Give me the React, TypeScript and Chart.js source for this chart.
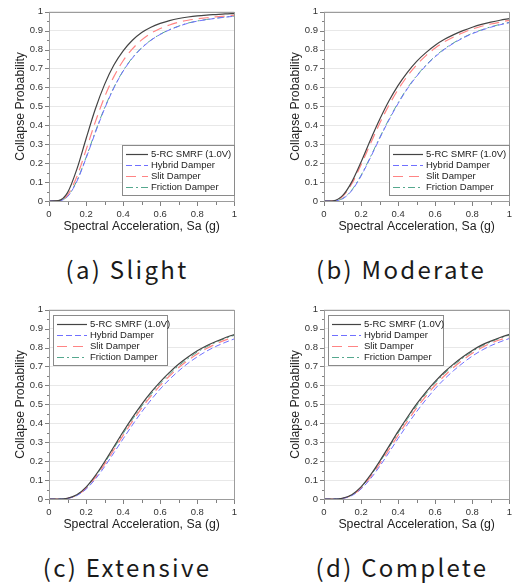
import React, { useEffect, useRef } from 'react';
import { Chart, registerables } from 'chart.js';
Chart.register(...registerables);

const FONT = '"Liberation Sans", Arial, sans-serif';

// ---------- data ----------
const saValues = [0, 0.05, 0.1, 0.15, 0.2, 0.25, 0.3, 0.35, 0.4, 0.45, 0.5, 0.55, 0.6, 0.65, 0.7, 0.75, 0.8, 0.85, 0.9, 0.95, 1.0];
const seriesLabels = ['5-RC SMRF (1.0V)', 'Hybrid Damper', 'Slit Damper', 'Friction Damper'];
const xTickStep = 0.2;
const yTickStep = 0.1;

const slightSMRF = [0, 0.0015, 0.044, 0.167, 0.329, 0.486, 0.616, 0.718, 0.793, 0.849, 0.89, 0.918, 0.938, 0.953, 0.964, 0.972, 0.978, 0.982, 0.985, 0.988, 0.99];
const slightHybrid = [0, 0.0006, 0.023, 0.103, 0.226, 0.361, 0.488, 0.597, 0.686, 0.755, 0.808, 0.849, 0.88, 0.904, 0.923, 0.939, 0.95, 0.958, 0.965, 0.971, 0.976];
const slightSlit = [0, 0.001, 0.031, 0.128, 0.27, 0.418, 0.55, 0.657, 0.741, 0.804, 0.851, 0.886, 0.911, 0.93, 0.945, 0.955, 0.962, 0.968, 0.973, 0.977, 0.981];
const slightFriction = [0, 0.0007, 0.025, 0.106, 0.23, 0.366, 0.492, 0.6, 0.688, 0.757, 0.81, 0.85, 0.881, 0.905, 0.924, 0.94, 0.951, 0.959, 0.966, 0.972, 0.977];

const moderateSMRF = [0, 0.001, 0.028, 0.101, 0.206, 0.321, 0.43, 0.528, 0.611, 0.68, 0.738, 0.784, 0.823, 0.854, 0.879, 0.9, 0.918, 0.933, 0.945, 0.955, 0.963];
const moderateHybrid = [0, 0.0003, 0.0115, 0.055, 0.132, 0.228, 0.33, 0.427, 0.515, 0.593, 0.659, 0.715, 0.762, 0.801, 0.834, 0.861, 0.884, 0.902, 0.918, 0.931, 0.942];
const moderateSlit = [0, 0.001, 0.024, 0.091, 0.191, 0.301, 0.409, 0.505, 0.589, 0.66, 0.719, 0.768, 0.808, 0.841, 0.867, 0.889, 0.908, 0.923, 0.935, 0.945, 0.954];
const moderateFriction = [0, 0.0004, 0.013, 0.058, 0.136, 0.232, 0.334, 0.431, 0.519, 0.597, 0.662, 0.718, 0.765, 0.804, 0.836, 0.863, 0.886, 0.904, 0.92, 0.933, 0.944];

const extensiveSMRF = [0, 0.0001, 0.004, 0.022, 0.063, 0.124, 0.197, 0.276, 0.355, 0.43, 0.5, 0.563, 0.619, 0.669, 0.713, 0.75, 0.783, 0.81, 0.832, 0.852, 0.869];
const extensiveHybrid = [0, 0, 0.003, 0.018, 0.052, 0.105, 0.171, 0.244, 0.318, 0.391, 0.46, 0.523, 0.581, 0.632, 0.677, 0.717, 0.751, 0.781, 0.806, 0.827, 0.846];
const extensiveSlit = [0, 0, 0.003, 0.02, 0.057, 0.114, 0.184, 0.26, 0.336, 0.41, 0.48, 0.543, 0.6, 0.65, 0.695, 0.733, 0.766, 0.795, 0.819, 0.839, 0.856];
const extensiveFriction = [0, 0.0001, 0.0035, 0.021, 0.06, 0.119, 0.19, 0.268, 0.346, 0.42, 0.49, 0.553, 0.61, 0.66, 0.704, 0.742, 0.776, 0.804, 0.828, 0.848, 0.865];

const completeSMRF = [0, 0.0001, 0.004, 0.023, 0.064, 0.126, 0.199, 0.278, 0.357, 0.432, 0.502, 0.565, 0.621, 0.671, 0.714, 0.752, 0.785, 0.813, 0.834, 0.853, 0.87];
const completeHybrid = [0, 0, 0.003, 0.018, 0.053, 0.106, 0.172, 0.245, 0.32, 0.393, 0.462, 0.525, 0.583, 0.634, 0.679, 0.719, 0.755, 0.785, 0.81, 0.83, 0.848];
const completeSlit = [0, 0, 0.0032, 0.02, 0.057, 0.115, 0.185, 0.261, 0.337, 0.411, 0.481, 0.544, 0.601, 0.651, 0.696, 0.735, 0.77, 0.799, 0.823, 0.841, 0.856];
const completeFriction = [0, 0.0001, 0.0036, 0.022, 0.061, 0.121, 0.193, 0.271, 0.349, 0.423, 0.493, 0.556, 0.613, 0.663, 0.707, 0.745, 0.779, 0.807, 0.83, 0.85, 0.866];

// ---------- styles ----------
const lineStyles = [
  { color: '#444444', dash: [] as number[], width: 1.2 },
  { color: '#7070ff', dash: [6, 3], width: 1 },
  { color: '#ff8484', dash: [10, 6], width: 1.2 },
  { color: '#55a88e', dash: [7, 3, 2, 3], width: 1 },
];

type LegendOpts = { corner: 'br' | 'tl'; width: number; sample: number };
type PanelSpec = {
  caption: string;
  values: number[][];
  legend: LegendOpts;
  left: number;
  top: number;
  captionX: number;
  captionY: number;
};

const panels: PanelSpec[] = [
  { caption: '(a) Slight', values: [slightSMRF, slightHybrid, slightSlit, slightFriction], legend: { corner: 'br', width: 112, sample: 22 }, left: 0, top: 0, captionX: 127, captionY: 269 },
  { caption: '(b) Moderate', values: [moderateSMRF, moderateHybrid, moderateSlit, moderateFriction], legend: { corner: 'br', width: 120, sample: 30 }, left: 275, top: 0, captionX: 401, captionY: 269 },
  { caption: '(c) Extensive', values: [extensiveSMRF, extensiveHybrid, extensiveSlit, extensiveFriction], legend: { corner: 'tl', width: 114, sample: 30 }, left: 0, top: 298, captionX: 127, captionY: 567 },
  { caption: '(d) Complete', values: [completeSMRF, completeHybrid, completeSlit, completeFriction], legend: { corner: 'tl', width: 115, sample: 29 }, left: 275, top: 298, captionX: 402, captionY: 567 },
];

const fmt = (v: number | string) => String(Math.round(Number(v) * 100) / 100);

const framePlugin = {
  id: 'frame',
  afterDraw(chart: any, _args: any, opts: LegendOpts) {
    const { ctx, chartArea: ca, scales } = chart;
    ctx.save();
    const line = (x1: number, y1: number, x2: number, y2: number) => {
      ctx.beginPath();
      ctx.moveTo(x1, y1);
      ctx.lineTo(x2, y2);
      ctx.stroke();
    };
    // plot frame
    ctx.setLineDash([]);
    ctx.lineWidth = 1;
    ctx.strokeStyle = '#9c9c9c';
    ctx.strokeRect(Math.round(ca.left) + 0.5, Math.round(ca.top) + 0.5, Math.round(ca.right - ca.left), Math.round(ca.bottom - ca.top));
    // tick marks (major + minor), outward
    ctx.strokeStyle = '#808080';
    const xs = scales.x, ys = scales.y;
    const xMinor = xTickStep / 2, yMinor = yTickStep / 2;
    const nx = Math.round((xs.max - xs.min) / xMinor);
    for (let i = 0; i <= nx; i++) {
      const px = Math.round(xs.getPixelForValue(xs.min + i * xMinor)) + 0.5;
      const len = i % 2 === 0 ? 4 : 3;
      line(px, Math.round(ca.bottom) + 1, px, Math.round(ca.bottom) + 1 + len);
    }
    const ny = Math.round((ys.max - ys.min) / yMinor);
    for (let i = 0; i <= ny; i++) {
      const py = Math.round(ys.getPixelForValue(ys.min + i * yMinor)) + 0.5;
      const len = i % 2 === 0 ? 4 : 2;
      line(Math.round(ca.left) - len, py, Math.round(ca.left), py);
    }
    // legend
    const h = 50;
    let bx: number, by: number;
    if (opts.corner === 'br') {
      bx = Math.round(ca.right) - opts.width;
      by = Math.round(ca.bottom) - 6 - h;
    } else {
      bx = Math.round(ca.left) + 4;
      by = Math.round(ca.top) + 5;
    }
    ctx.fillStyle = '#ffffff';
    ctx.fillRect(bx, by, opts.width, h);
    ctx.lineWidth = 1;
    ctx.strokeStyle = '#8a8a8a';
    ctx.strokeRect(bx + 0.5, by + 0.5, opts.width, h);
    seriesLabels.forEach((label, i) => {
      const st = lineStyles[i];
      const cy = Math.round(by + 9 + i * 11) + 0.5;
      ctx.setLineDash(st.dash);
      ctx.strokeStyle = st.color;
      ctx.lineWidth = st.width;
      line(bx + 4, cy, bx + 4 + opts.sample, cy);
      ctx.setLineDash([]);
      ctx.fillStyle = '#222';
      ctx.font = `9.5px ${FONT}`;
      ctx.textBaseline = 'middle';
      ctx.textAlign = 'left';
      ctx.fillText(label, bx + 4 + opts.sample + 3, cy);
    });
    ctx.restore();
  },
};

function Panel({ spec }: { spec: PanelSpec }) {
  const ref = useRef<HTMLCanvasElement>(null);
  useEffect(() => {
    const chart = new Chart(ref.current as HTMLCanvasElement, {
      type: 'line',
      data: {
        datasets: seriesLabels.map((label, i) => ({
          label,
          data: saValues.map((x, k) => ({ x, y: spec.values[i][k] })),
          borderColor: lineStyles[i].color,
          borderDash: lineStyles[i].dash,
          borderWidth: lineStyles[i].width,
          pointRadius: 0,
          cubicInterpolationMode: 'monotone',
          fill: false,
        })),
      },
      options: {
        responsive: false,
        animation: false,
        devicePixelRatio: 1,
        layout: { padding: { top: 9, right: 6, bottom: 0, left: 0 } },
        plugins: {
          legend: { display: false },
          tooltip: { enabled: false },
          frame: spec.legend,
        } as any,
        scales: {
          x: {
            type: 'linear',
            min: 0,
            max: 1,
            afterFit: (s: any) => { s.height = 35; },
            grid: { display: false, drawTicks: false },
            border: { display: false },
            ticks: { stepSize: xTickStep, padding: 8, color: '#333', font: { size: 9.5, family: FONT }, callback: fmt, maxRotation: 0, autoSkip: false },
            title: { display: true, text: 'Spectral Acceleration, Sa (g)', color: '#222', font: { size: 12.3, family: FONT }, padding: { top: 0, bottom: 2 } },
          },
          y: {
            type: 'linear',
            min: 0,
            max: 1,
            afterFit: (s: any) => { s.width = 49; },
            grid: { color: '#e8e8e8', drawTicks: false },
            border: { display: false },
            ticks: { stepSize: yTickStep, padding: 6, color: '#333', font: { size: 9.5, family: FONT }, callback: fmt, autoSkip: false },
            title: { display: true, text: 'Collapse Probability', color: '#222', font: { size: 12.3, family: FONT }, padding: { top: 13, bottom: 0 } },
          },
        },
      },
      plugins: [framePlugin as any],
    } as any);
    return () => chart.destroy();
  }, [spec]);
  return (
    <canvas
      ref={ref}
      width={245}
      height={236}
      style={{ position: 'absolute', left: spec.left, top: spec.top, width: 245, height: 236 }}
    />
  );
}

export default function App() {
  return (
    <div style={{ position: 'absolute', left: 0, top: 0, width: 515, height: 583, overflow: 'hidden', background: '#fff' }}>
      {panels.map((p) => (
        <React.Fragment key={p.caption}>
          <Panel spec={p} />
          <div
            style={{
              position: 'absolute',
              left: p.captionX - 130,
              width: 260,
              top: p.captionY - 17,
              height: 34,
              lineHeight: '34px',
              textAlign: 'center',
              fontFamily: '"Noto Sans CJK KR", "Noto Sans", sans-serif',
              fontSize: 24,
              letterSpacing: '2.3px',
              color: '#1a1a1a',
              whiteSpace: 'pre',
            }}
          >
            {p.caption}
          </div>
        </React.Fragment>
      ))}
    </div>
  );
}
